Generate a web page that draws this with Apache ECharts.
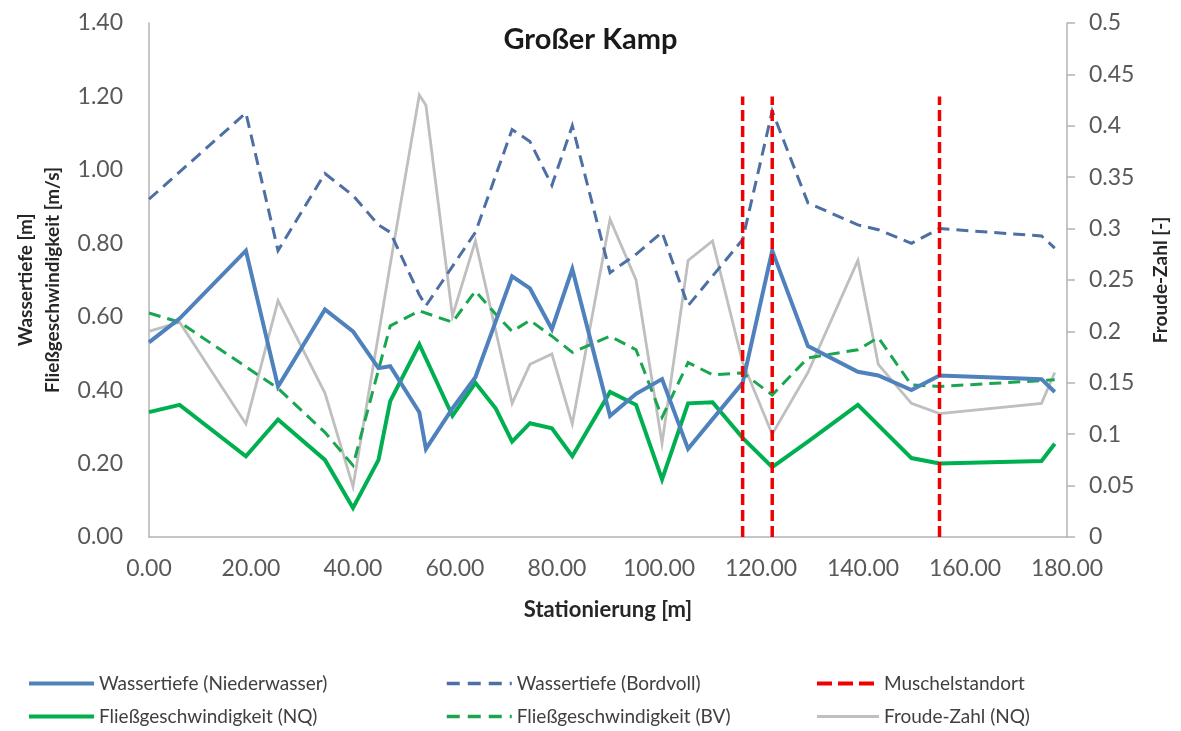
<!DOCTYPE html>
<html>
<head>
<meta charset="utf-8">
<script src="https://cdn.jsdelivr.net/npm/echarts@6/dist/echarts.min.js"></script>
<style>
  html, body { margin: 0; padding: 0; background: #ffffff; }
  #chart { width: 1181px; height: 731px; }
</style>
</head>
<body>
<div id="chart"></div>
<script>
// Stationierung [m] of the measured cross sections
const stations = [0, 6, 19, 25.3, 34.5, 40, 45, 47.3, 53, 54.3, 59.5, 64, 68, 71.2, 74.7, 79, 83,
  90.4, 95.5, 100.6, 105.7, 110.5, 116.4, 122.2, 129.2, 139, 143, 149.5, 155, 175, 177.6];

// Wassertiefe [m] at Niederwasser and Bordvoll (null = not measured at that station)
const depthLow = [0.53, 0.595, 0.78, 0.41, 0.62, 0.56, 0.46, 0.465, 0.34, 0.24, 0.35, 0.435, null, 0.71, 0.677,
  0.566, 0.73, 0.33, 0.39, 0.43, 0.24, null, 0.42, 0.78, 0.52, 0.45, 0.44, 0.40, 0.44, 0.43, 0.395];
const depthFull = [0.92, null, 1.155, 0.78, 0.99, 0.93, 0.85, 0.83, 0.66, 0.63, null, 0.83, null, 1.11, 1.077,
  0.958, 1.12, 0.72, 0.77, 0.83, 0.63, null, 0.81, 1.16, 0.91, 0.85, 0.837, 0.80, 0.84, 0.82, 0.787];

// Fließgeschwindigkeit [m/s] at NQ and BV
const velocityNQ = [0.34, 0.36, 0.22, 0.32, 0.21, 0.079, 0.21, 0.37, 0.525, null, 0.33, 0.42, 0.35, 0.26, 0.31,
  0.296, 0.22, 0.395, 0.36, 0.157, 0.364, 0.367, 0.27, 0.19, 0.26, 0.36, null, 0.215, 0.20, 0.207, 0.254];
const velocityBV = [0.61, 0.585, null, 0.405, 0.285, 0.195, null, 0.575, 0.616, null, 0.585, 0.67, 0.607, 0.56, 0.59,
  0.547, 0.503, 0.547, 0.51, 0.326, 0.475, 0.442, 0.447, 0.387, 0.488, 0.51, 0.543, 0.414, 0.41, null, 0.428];

// Froude-Zahl [-] at NQ (secondary axis)
const froudeNQ = [0.20, 0.209, 0.11, 0.23, 0.14, 0.049, null, 0.265, 0.43, 0.42, 0.215, 0.288, null, 0.13, 0.168,
  0.178, 0.11, 0.309, 0.25, 0.091, 0.269, 0.288, 0.17, 0.10, 0.16, 0.269, 0.168, 0.13, 0.12, 0.13, 0.16];

// Muschelstandorte: station and height of the marker line
const musselSites = [116.4, 122.2, 155];
const musselTop = 1.2;

// axis ranges and tick steps
const xTicks = { min: 0, max: 180, step: 20 };
const leftTicks = { min: 0, max: 1.4, step: 0.2 };
const rightTicks = { min: 0, max: 0.5, step: 0.05 };

const FONT = 'Lato, "Open Sans", sans-serif';

function pairs(values) {
  const out = [];
  values.forEach((v, i) => { if (v !== null) out.push([stations[i], v]); });
  return out;
}

const LBL_WT_NW = 'Wassertiefe (Niederwasser)';
const LBL_WT_BV = 'Wassertiefe (Bordvoll)';
const LBL_MU = 'Muschelstandort';
const LBL_FG_NQ = 'Fließgeschwindigkeit (NQ)';
const LBL_FG_BV = 'Fließgeschwindigkeit (BV)';
const LBL_FR = 'Froude-Zahl (NQ)';

function lineSeries(name, data, color, width, type, yAxisIndex, z) {
  return {
    name, type: 'line', data, yAxisIndex: yAxisIndex || 0,
    symbol: 'none', showSymbol: false, animation: false, z: z,
    lineStyle: { color, width, type: type || 'solid', cap: 'butt', join: 'miter' },
    itemStyle: { color }
  };
}

const series = [
  lineSeries(LBL_FR, pairs(froudeNQ), '#BFBFBF', 2.8, 'solid', 1, 2),
  lineSeries(LBL_FG_BV, pairs(velocityBV), '#19A64F', 3, [12, 7], 0, 3),
  lineSeries(LBL_WT_BV, pairs(depthFull), '#4D6FA3', 3, [12, 7], 0, 4),
  lineSeries(LBL_FG_NQ, pairs(velocityNQ), '#00B050', 4, 'solid', 0, 5),
  lineSeries(LBL_WT_NW, pairs(depthLow), '#4F81BD', 4, 'solid', 0, 6)
];
musselSites.forEach(x => {
  series.push(lineSeries(LBL_MU, [[x, 0], [x, musselTop]], '#F00000', 3.5, [11, 5], 0, 7));
});

// legend entries with a slightly heavier line sample
function entry(name, width, dash) {
  const item = { name, lineStyle: { width } };
  if (dash) item.lineStyle.type = dash;
  return item;
}

const legendText = { fontFamily: FONT, fontSize: 19, color: '#404040', lineHeight: 19 };
function legendColumn(left, width, entries) {
  return {
    orient: 'vertical', left, top: 674, itemWidth: width, itemHeight: 19, itemGap: 14,
    data: entries, textStyle: legendText, selectedMode: false, padding: 0,
    // the legend shows only the line sample, no marker in its middle
    itemStyle: { opacity: 0, borderWidth: 0 }
  };
}

const axisLineStyle = { color: '#B3B3B3', width: 1.5 };
const tickLabel = { fontFamily: FONT, fontSize: 23, color: '#595959' };
const nameStyle = { fontFamily: FONT, fontWeight: 'bold', color: '#262626' };

const chart = echarts.init(document.getElementById('chart'), null, { renderer: 'canvas' });
chart.setOption({
  backgroundColor: '#ffffff',
  animation: false,
  title: {
    text: 'Großer Kamp', left: 'center', top: 20,
    textStyle: { fontFamily: FONT, fontSize: 29, fontWeight: 'bold', color: '#1A1A1A' }
  },
  grid: { left: 149, right: 114, top: 23, bottom: 194 },
  legend: [
    legendColumn(27, 65, [entry(LBL_WT_NW, 4), entry(LBL_FG_NQ, 4)]),
    legendColumn(445, 65, [entry(LBL_WT_BV, 3.5, [13, 8]), entry(LBL_FG_BV, 3.5, [13, 8])]),
    legendColumn(815, 62, [entry(LBL_MU, 4, [15, 6]), entry(LBL_FR, 3)])
  ],
  xAxis: {
    type: 'value', min: xTicks.min, max: xTicks.max, interval: xTicks.step,
    name: 'Stationierung [m]', nameLocation: 'middle', nameGap: 62,
    nameTextStyle: { ...nameStyle, fontSize: 22 },
    axisLine: { show: true, lineStyle: axisLineStyle },
    axisTick: { show: false },
    splitLine: { show: false },
    axisLabel: { ...tickLabel, margin: 20, formatter: v => v.toFixed(2) }
  },
  yAxis: [
    {
      type: 'value', min: leftTicks.min, max: leftTicks.max, interval: leftTicks.step,
      name: 'Wassertiefe [m]\nFließgeschwindigkeit [m/s]', nameLocation: 'middle', nameRotate: 90, nameGap: 80,
      nameTextStyle: { ...nameStyle, fontSize: 19, lineHeight: 27 },
      axisLine: { show: true, lineStyle: axisLineStyle },
      axisTick: { show: false },
      splitLine: { show: false },
      axisLabel: { ...tickLabel, margin: 26, formatter: v => v.toFixed(2) }
    },
    {
      type: 'value', min: rightTicks.min, max: rightTicks.max, interval: rightTicks.step,
      position: 'right',
      name: 'Froude-Zahl [-]', nameLocation: 'middle', nameRotate: 90, nameGap: 84,
      nameTextStyle: { ...nameStyle, fontSize: 19 },
      axisLine: { show: true, lineStyle: axisLineStyle },
      axisTick: { show: true, inside: false, length: 8, lineStyle: axisLineStyle },
      splitLine: { show: false },
      axisLabel: { ...tickLabel, margin: 22, formatter: v => String(+v.toFixed(2)) }
    }
  ],
  series
});
</script>
</body>
</html>
